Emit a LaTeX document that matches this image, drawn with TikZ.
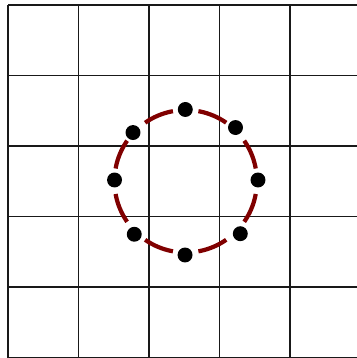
\documentclass[tikz,border=0pt]{standalone}
\definecolor{ringred}{RGB}{128,0,0}
\tikzset{
  gridline/.style={line width=0.7pt, draw=black!90},
  ring/.style={draw=ringred, line width=1.7pt, dash pattern=on 0.43cm off 0.3633cm, dash phase=0.6117cm},
  dot/.style={circle, fill=black, inner sep=0pt, minimum size=0.212cm}
}
\begin{document}
\begin{tikzpicture}
\useasboundingbox (-0.1135,-0.007) rectangle (4.950,5.071);
\draw[gridline] (0,0) grid (5,5);
\draw[ring] (3.53,2.5) arc[start angle=0, end angle=360, radius=1.01];
\node[dot] (d1) at (2.515,3.518) {};
\node[dot] (d2) at (3.227,3.262) {};
\node[dot] (d3) at (3.546,2.518) {};
\node[dot] (d4) at (3.295,1.756) {};
\node[dot] (d5) at (2.511,1.454) {};
\node[dot] (d6) at (1.791,1.748) {};
\node[dot] (d7) at (1.511,2.518) {};
\node[dot] (d8) at (1.773,3.191) {};
\end{tikzpicture}
\end{document}
